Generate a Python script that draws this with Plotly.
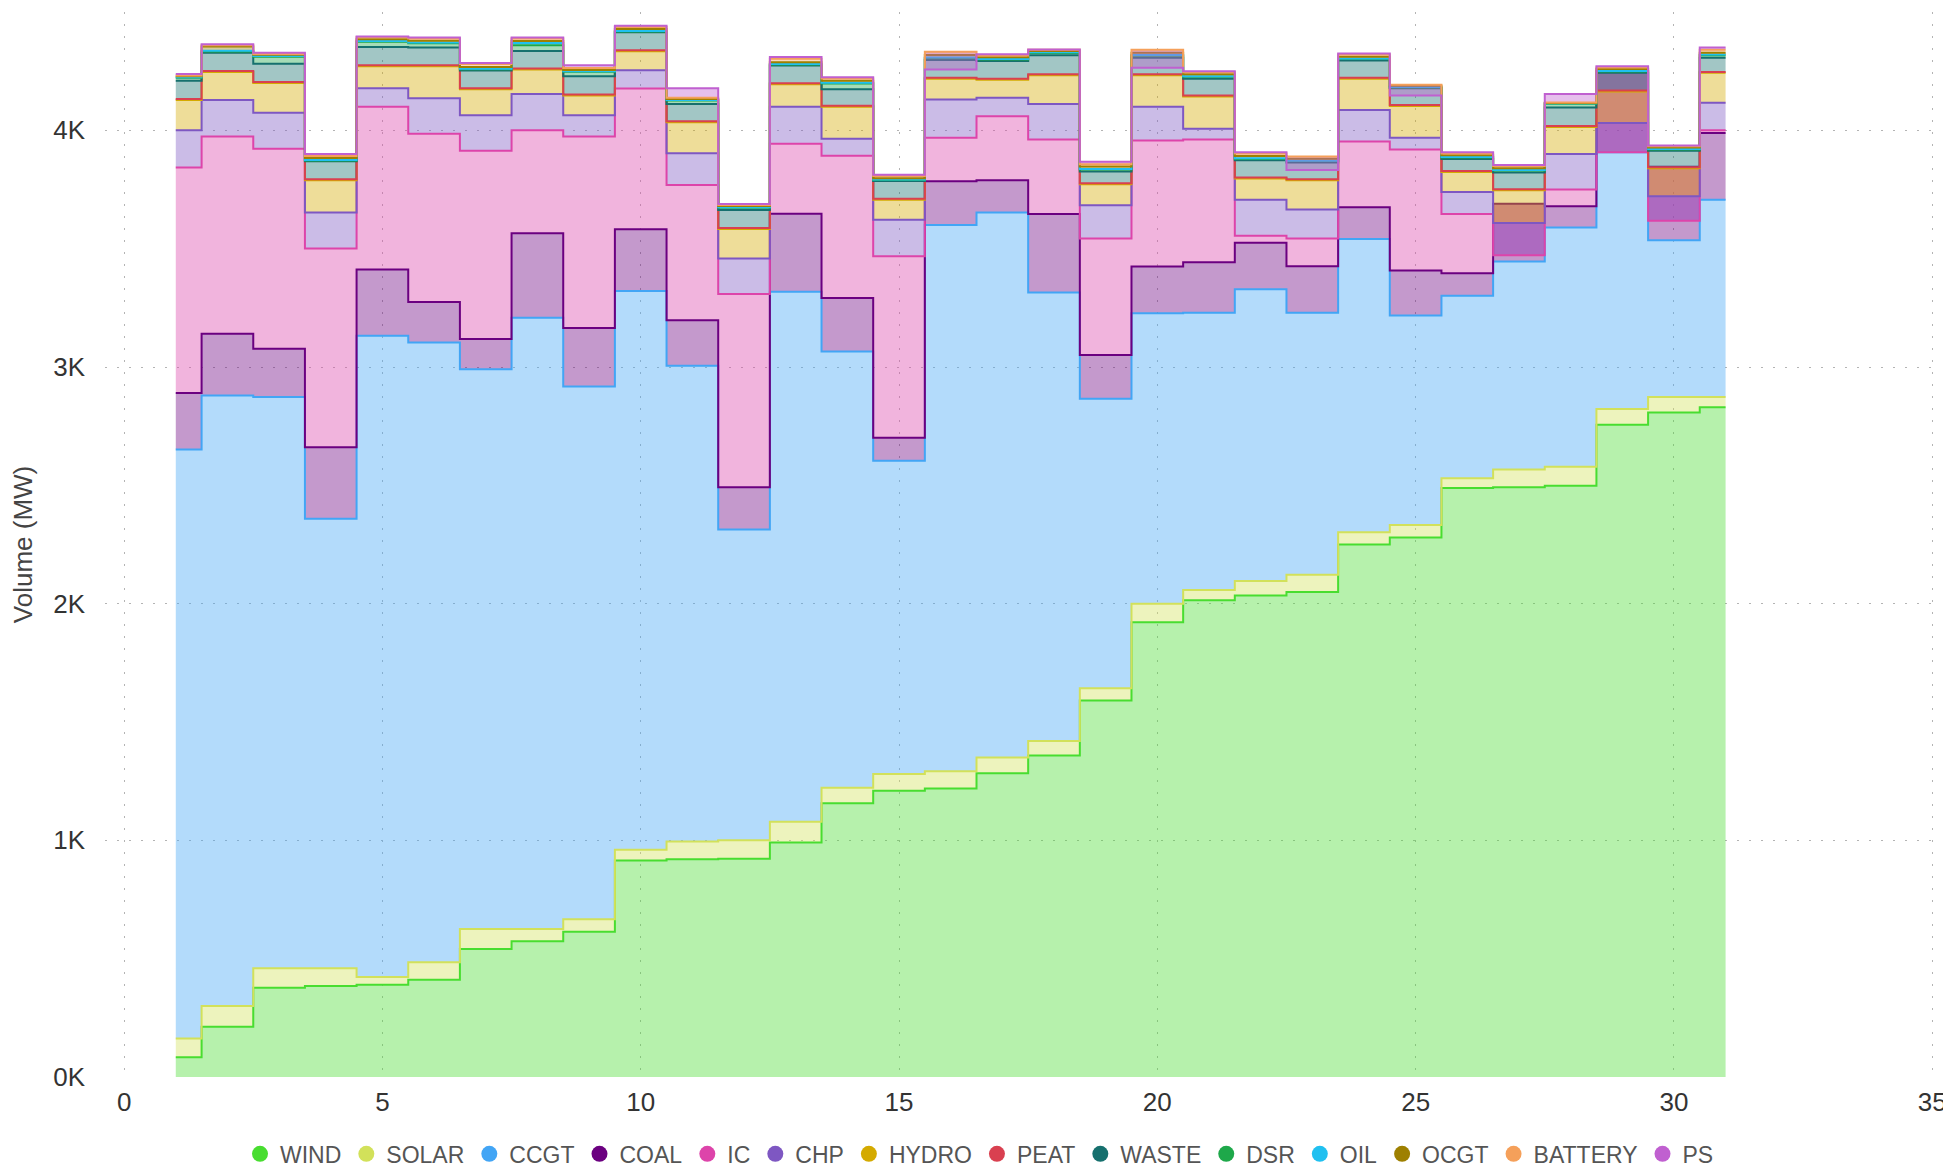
import plotly.graph_objects as go

# 每日發電量 (MW)，第 1 ~ 31 天
days = list(range(1, 32))

wind = [83, 212, 377, 385, 390, 411, 541, 574, 614, 915, 920, 922, 991, 1157, 1210, 1219,
        1283, 1358, 1591, 1921, 2014, 2035, 2049, 2250, 2280, 2489, 2492, 2498, 2756, 2808, 2830]
solar = [80, 88, 83, 75, 33, 74, 84, 51, 53, 45, 75, 78, 88, 65, 70, 73,
         67, 62, 52, 79, 44, 61, 73, 52, 52, 41, 75, 80, 67, 65, 43]
ccgt = [2488, 2580, 2413, 1899, 2709, 2619, 2365, 2583, 2251, 2361, 2010, 1313, 2239, 1843, 1324, 2308,
        2303, 1895, 1223, 1227, 1171, 1233, 1107, 1239, 886, 771, 879, 1011, 1084, 663, 834]
coal = [239, 261, 204, 302, 280, 171, 128, 357, 247, 261, 193, 179, 330, 227, 97, 185,
        136, 331, 185, 198, 214, 196, 197, 134, 190, 95, 244, 90, 345, 310, 282]
ic = [953, 833, 845, 840, 688, 711, 796, 435, 809, 595, 571, 816, 295, 601, 767, 184,
      271, 315, 492, 532, 518, 30, 117, 278, 511, 250, -218, 71, -345, -228, 11]
chp = [157, 154, 152, 152, 78, 150, 150, 154, 90, 77, 134, 150, 157, 71, 154, 161,
       78, 150, 140, 143, 46, 152, 122, 133, 50, 93, 136, 150, 124, 104, 117]
hydro = [128, 119, 126, 136, 93, 135, 110, 103, 83, 80, 131, 125, 95, 136, 85, 88,
         76, 122, 89, 133, 136, 90, 124, 132, 134, 85, 139, 114, 133, 118, 126]
peat = [4] * 31
waste = [78, 77, 77, 76, 77, 75, 75, 74, 77, 76, 73, 76, 75, 70, 75, 75,
         75, 80, 50, 70, 71, 73, 71, 73, 71, 51, 71, 79, 75, 70, 60]
dsr = [12, 5, 30, 4, 22, 18, 5, 24, 20, 4, 15, 10, 4, 24, 4, 8,
       6, 10, 8, 8, 8, 5, 6, 6, 3, 6, 8, 15, 6, 5, 10]
oil = [2, 3, 3, 2, 3, 3, 2, 10, 2, 2, 2, 2, 2, 3, 2, 3,
       2, 3, 3, 3, 3, 3, 2, 2, 2, 2, 2, 2, 2, 2, 3]
ocgt = [4, 18, 5, 8, 8, 8, 8, 8, 5, 8, 4, 5, 8, 8, 6, 10,
        8, 5, 10, 10, 8, 10, 8, 8, 5, 8, 8, 2, 8, 6, 8]
battery = [4, 6, 4, 9, 8, 9, 12, 11, 8, 9, 6, 5, 14, 10, 9, 14,
           7, 5, 10, 12, 8, 10, 9, 9, 5, 7, 9, 2, 7, 6, 12]
ps = [6, 4, 5, 8, 4, 4, 5, 4, 12, 5, 40, 4, 8, 5, 5, -75,
      5, 2, 10, -76, 5, 5, -57, 5, -46, 5, 5, 36, 5, 3, 10]

names = ["WIND", "SOLAR", "CCGT", "COAL", "IC", "CHP", "HYDRO", "PEAT",
         "WASTE", "DSR", "OIL", "OCGT", "BATTERY", "PS"]
series = [wind, solar, ccgt, coal, ic, chp, hydro, peat,
          waste, dsr, oil, ocgt, battery, ps]
colors = ["#48dd30", "#d2e15a", "#42a5f5", "#6b0080", "#dd44aa", "#7e57c2", "#d4aa00",
          "#d94050", "#16706e", "#1ea84a", "#20c0f0", "#9e8000", "#f5a05a", "#c060d0"]


def rgba(hex_color, alpha):
    h = hex_color.lstrip("#")
    r, g, b = int(h[0:2], 16), int(h[2:4], 16), int(h[4:6], 16)
    return f"rgba({r},{g},{b},{alpha})"


fig = go.Figure()

# 堆疊階梯面積
for name, vals, c in zip(names, series, colors):
    fig.add_trace(go.Scatter(
        x=days, y=vals, name=name, stackgroup="mix",
        mode="lines", line=dict(color=c, width=2, shape="hvh"),
        fillcolor=rgba(c, 0.4), showlegend=False,
    ))

# 圖例用圓點
for name, c in zip(names, colors):
    fig.add_trace(go.Scatter(
        x=[None], y=[None], name=name, mode="markers",
        marker=dict(color=c, size=16, symbol="circle"),
    ))

grid = dict(showgrid=True, gridcolor="#b4b4b4", griddash="2px,10px", gridwidth=1,
            zeroline=False, showline=False, automargin=False)

# 頁面 body 有 8px 邊距，所以圖本身縮 8px
fig.update_layout(
    width=1943, height=1161,
    margin=dict(l=97, r=10, t=4, b=92),
    plot_bgcolor="white", paper_bgcolor="white",
    font=dict(family="Liberation Sans, Arial, sans-serif", size=26, color="#333333"),
    xaxis=dict(range=[-0.37, 35.17], tickvals=[0, 5, 10, 15, 20, 25, 30, 35],
               ticklabelstandoff=7, **grid),
    yaxis=dict(range=[0, 4500], tickvals=[0, 1000, 2000, 3000, 4000],
               ticktext=["0K", "1K", "2K", "3K", "4K"], ticklabelstandoff=19,
               title=dict(text="Volume (MW)", font=dict(size=26, color="#444444"), standoff=14),
               **grid),
    legend=dict(orientation="h", xref="container", yref="container",
                x=0.5, xanchor="center", y=0.013, yanchor="middle",
                traceorder="normal",
                font=dict(size=23, color="#555555"), itemwidth=30),
    showlegend=True,
)

fig.write_html("out.html")
